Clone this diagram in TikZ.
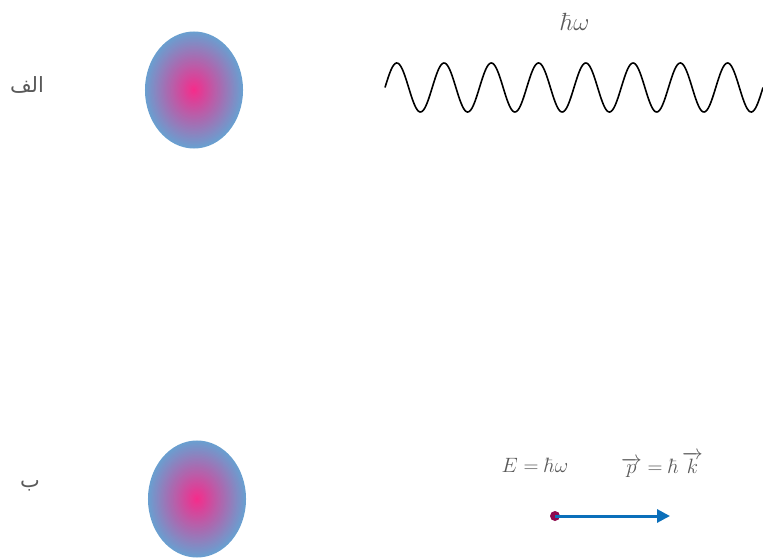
\documentclass[tikz,border=0pt]{standalone}
\usepackage{fontspec}
\usepackage{amsmath}
\usetikzlibrary{arrows.meta}
\newfontfamily\arabicfont[Script=Arabic]{DejaVu Sans}
\TeXXeTstate=1
\definecolor{txtgray}{HTML}{595959}
\definecolor{ballpink}{HTML}{F82A8A}
\definecolor{ballblue}{HTML}{6A9FD0}
\definecolor{dotred}{HTML}{8E0A4E}
\definecolor{arrowblue}{HTML}{0B6FBA}
\tikzset{
  lbl/.style={text=txtgray, inner sep=0pt},
  mathlbl/.style={lbl, font=\fontsize{24}{28}\selectfont},
  eqlbl/.style={lbl, font=\fontsize{20}{24}\selectfont},
  arlbl/.style={lbl, font=\arabicfont\fontsize{21}{24}\selectfont},
  wave/.style={line width=1.6pt, black},
  momentum/.style={line width=3pt, arrowblue, -{Triangle[length=13pt, width=13pt]}},
  particle/.style={circle, fill=dotred, minimum size=10pt, inner sep=0pt}
}
\newcommand{\gradball}[3]{% x, y, name
  \foreach \i in {0,...,40}{
    \pgfmathsetmacro{\f}{1-\i/40}
    \pgfmathsetmacro{\mix}{100*\i/40}
    \fill[ballpink!\mix!ballblue] (#1,#2) ellipse ({49*\f+0.01} and {58.5*\f+0.01});
  }
  \coordinate (#3) at (#1,#2);
}
\begin{document}
\begin{tikzpicture}[x=1pt,y=-1pt]
\useasboundingbox (0,0) rectangle (763,559);
% top row
\gradball{194}{90}{ballA}
\node[arlbl] (labA) at (27,85) {\beginR الف\endR};
\node[mathlbl] (hw) at (575,22) {$\hbar\omega$};
\draw[wave] plot[domain=385:763, samples=400] (\x, {87.5-24.5*sin(7.619*(\x-385))});
% bottom row
\gradball{197}{499}{ballB}
\node[arlbl] (labB) at (30,486) {\beginR ب\endR};
\node[eqlbl] (energy) at (535,465) {$E=\hbar\omega$};
\node[eqlbl] (mom) at (662,465) {$\overrightarrow{p}=\hbar\,\overrightarrow{k}$};
\node[particle] (dot) at (555,516) {};
\coordinate (tip) at (670,516);
\draw[momentum] (dot.center) -- (tip);
\end{tikzpicture}
\end{document}
